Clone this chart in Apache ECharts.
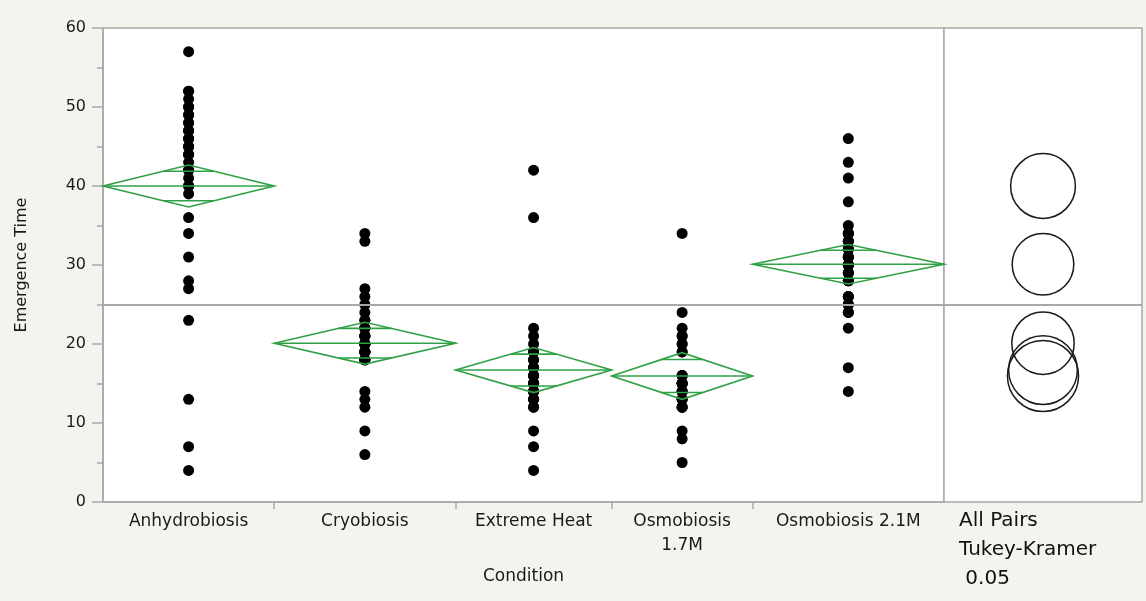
<!DOCTYPE html>
<html>
<head>
<meta charset="utf-8">
<script src="https://cdn.jsdelivr.net/npm/echarts@6/dist/echarts.min.js"></script>
<style>
html,body{margin:0;padding:0;background:#f4f4ef;}
#chart{width:1146px;height:601px;}
</style>
</head>
<body>
<div id="chart"></div>
<script>
// ---- data ----
const categories = ['Anhydrobiosis', 'Cryobiosis', 'Extreme Heat', 'Osmobiosis\n1.7M', 'Osmobiosis 2.1M'];
const anhydrobiosis = [57,52,51,50,49,48,47,46,45,44,43,42,41,40,39,36,34,31,28,27,23,13,7,4,40,42,44,45,46,47,48,49,50,52];
const cryobiosis = [34,33,27,26,25,24,23,22,21,20,19,18,14,13,12,9,6,18,18,18,18,19,19,19,19,20,20,20,20,20,21,21,21,22,22,23];
const extremeHeat = [42,36,22,21,20,19,18,17,16,15,14,13,12,9,7,4,12,13,13,14,14,15,15,15,16,16,17,17,18,19,19];
const osmobiosis17 = [34,24,22,21,20,19,16,15,14,13,12,9,8,5,12,12,13,13,14,14,15,15,15,16,16,19,20,21];
const osmobiosis21 = [46,43,41,38,35,34,33,32,31,30,29,28,26,25,24,22,17,14,24,25,26,28,28,29,29,30,30,30,31,31,31,32,32,33,33,34,26,34];
const groupMeans = [40.0, 20.1, 16.7, 15.95, 30.1];
const ciHalfWidth = [2.65, 2.65, 2.85, 2.95, 2.5];
const circleRadius = [4.1, 3.95, 4.35, 4.5, 3.9];
const grandMean = 25;
const yTicks = [0, 10, 20, 30, 40, 50, 60];
const panelText = ['All Pairs', 'Tukey-Kramer', ' 0.05'];

// ---- derived ----
const groups = [anhydrobiosis, cryobiosis, extremeHeat, osmobiosis17, osmobiosis21];
const bounds = [0];
groups.forEach(g => bounds.push(bounds[bounds.length - 1] + g.length));
const total = bounds[bounds.length - 1];
const centers = groups.map((g, i) => (bounds[i] + bounds[i + 1]) / 2);
const innerBounds = bounds.slice(1, -1);

const points = [];
groups.forEach((g, i) => g.forEach(v => points.push([centers[i], v])));

const FONT = 'DejaVu Sans';
const GREEN = '#2fa043';

const chart = echarts.init(document.getElementById('chart'));
chart.setOption({
  backgroundColor: '#f4f4ef',
  animation: false,
  grid: [
    {left: 103, right: 202, top: 28, bottom: 99, show: true, backgroundColor: '#ffffff', borderColor: '#a8a8a8', borderWidth: 1.5},
    {left: 944, right: 4, top: 28, bottom: 99, show: true, backgroundColor: '#ffffff', borderColor: '#a8a8a8', borderWidth: 1.5}
  ],
  xAxis: [
    {
      type: 'value', gridIndex: 0, min: 0, max: total,
      name: 'Condition', nameLocation: 'middle', nameGap: 66,
      nameTextStyle: {fontFamily: FONT, fontSize: 17, color: '#1a1a1a'},
      axisLine: {show: true, lineStyle: {color: '#a8a8a8', width: 1.5}},
      axisTick: {show: true, customValues: innerBounds, length: 7, lineStyle: {color: '#a8a8a8', width: 1.5}},
      axisLabel: {
        show: true, customValues: centers, margin: 8,
        fontFamily: FONT, fontSize: 17, color: '#1a1a1a', lineHeight: 24,
        formatter: function (v) {
          for (let i = 0; i < centers.length; i++) if (Math.abs(centers[i] - v) < 1e-6) return categories[i];
          return '';
        }
      },
      splitLine: {show: false}
    },
    {type: 'value', gridIndex: 1, min: 0, max: 1, show: false}
  ],
  yAxis: [
    {
      type: 'value', gridIndex: 0, min: yTicks[0], max: yTicks[yTicks.length - 1], interval: 10,
      name: 'Emergence Time', nameLocation: 'middle', nameGap: 73,
      nameTextStyle: {fontFamily: FONT, fontSize: 16, color: '#1a1a1a'},
      axisLine: {show: true, lineStyle: {color: '#a8a8a8', width: 1.5}},
      axisTick: {show: true, length: 11, lineStyle: {color: '#a8a8a8', width: 1.5}},
      minorTick: {show: true, splitNumber: 2, length: 6, lineStyle: {color: '#a8a8a8', width: 1.5}},
      axisLabel: {margin: 17, fontFamily: FONT, fontSize: 16, color: '#1a1a1a'},
      splitLine: {show: false}
    },
    {type: 'value', gridIndex: 1, min: yTicks[0], max: yTicks[yTicks.length - 1], show: false}
  ],
  series: [
    {
      type: 'scatter', xAxisIndex: 0, yAxisIndex: 0, data: points,
      symbol: 'circle', symbolSize: 11, itemStyle: {color: '#000', opacity: 1}, z: 3,
      markLine: {
        silent: true, symbol: 'none', label: {show: false},
        lineStyle: {color: '#a8a8a8', width: 2, type: 'solid'},
        data: [{yAxis: grandMean}]
      }
    },
    {
      type: 'custom', xAxisIndex: 0, yAxisIndex: 0, z: 4,
      data: groupMeans.map((m, i) => [i]),
      renderItem: function (params, api) {
        const i = api.value(0);
        const m = groupMeans[i], h = ciHalfWidth[i];
        const L = api.coord([bounds[i], m]);
        const R = api.coord([bounds[i + 1], m]);
        const C = api.coord([centers[i], m]);
        const T = api.coord([centers[i], m + h]);
        const B = api.coord([centers[i], m - h]);
        const hw = (R[0] - L[0]) / 2;
        const d = h / Math.SQRT2;
        const w = hw * (1 - 1 / Math.SQRT2);
        const up = api.coord([centers[i], m + d])[1];
        const dn = api.coord([centers[i], m - d])[1];
        const st = {stroke: GREEN, lineWidth: 1.6, fill: null};
        return {
          type: 'group',
          children: [
            {type: 'polygon', shape: {points: [L, T, R, B]}, style: st},
            {type: 'line', shape: {x1: L[0], y1: C[1], x2: R[0], y2: C[1]}, style: st},
            {type: 'line', shape: {x1: C[0] - w, y1: up, x2: C[0] + w, y2: up}, style: st},
            {type: 'line', shape: {x1: C[0] - w, y1: dn, x2: C[0] + w, y2: dn}, style: st}
          ]
        };
      }
    },
    {
      type: 'custom', xAxisIndex: 1, yAxisIndex: 1, z: 3,
      data: groupMeans.map((m, i) => [i]),
      renderItem: function (params, api) {
        const i = api.value(0);
        const c = api.coord([0.5, groupMeans[i]]);
        const r = api.size([0, circleRadius[i]])[1];
        return {type: 'circle', shape: {cx: c[0], cy: c[1], r: r}, style: {fill: null, stroke: '#1a1a1a', lineWidth: 1.5}};
      },
      markLine: {
        silent: true, symbol: 'none', label: {show: false},
        lineStyle: {color: '#a8a8a8', width: 2, type: 'solid'},
        data: [{yAxis: grandMean}]
      }
    }
  ],
  graphic: [
    {type: 'text', left: 959, top: 506, style: {text: panelText.join('\n'), fontFamily: FONT, fontSize: 20, lineHeight: 29, fill: '#111'}}
  ]
});
</script>
</body>
</html>
